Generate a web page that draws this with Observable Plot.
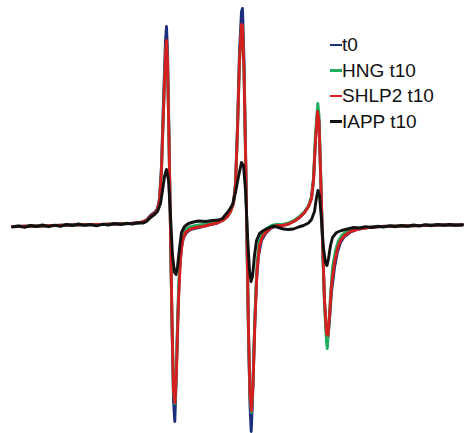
<!DOCTYPE html>
<html>
<head>
<meta charset="utf-8">
<script src="https://cdn.jsdelivr.net/npm/d3@7"></script>
<script src="https://cdn.jsdelivr.net/npm/@observablehq/plot@0.6"></script>
<style>
  html, body { margin: 0; padding: 0; background: #fff; }
  #wrap { position: relative; width: 473px; height: 433px; }
  #legend { position: absolute; left: 330px; top: 32px; font-family: "Liberation Sans", Arial, sans-serif; font-size: 19px; color: #111; }
  .row { height: 25.5px; line-height: 25.5px; white-space: nowrap; display: flex; align-items: center; }
  .dash { display: inline-block; width: 12px; height: 2.5px; margin-right: 0px; }
</style>
</head>
<body>
<div id="wrap"><div id="legend"></div></div>
<script>
// Series names and colours
const seriesNames = ["t0", "HNG t10", "SHLP2 t10", "IAPP t10"];
const seriesColors = ["#1b2f7e", "#1fae62", "#d41f1f", "#111111"];

// Field position (arbitrary units) and signal (arbitrary units)
const t0 = [
  [12,-1],[40,-0.5],[70,0.5],[100,1],[130,2],[140,3],[146,5.5],[150,10],[154,13],[157,17],[159,27],[161,60],[163,125],[165,185],[166,199],[167,175],[168.5,90],[170,-5],[171.5,-100],[173,-175],[174.3,-196],[175.5,-160],[177,-100],[179,-45],[181,-22],[183,-12],[186,-7],[190,-4],[196,-2.5],[202,-1],[210,1],[217,2.5],[223,5.5],[227,9],[230,14],[233,23],[235,42],[237,100],[239,175],[241,214],[242,217],[243.5,165],[245,80],[246.5,-15],[248,-110],[249.5,-180],[250.7,-206],[252,-175],[254,-105],[256,-55],[258,-30],[261,-15],[265,-8],[270,-3],[276,-0.5],[282,0],[288,1.5],[294,4.5],[299,8],[304,13],[308,19],[311,27],[313,45],[315,86],[317,113],[318.5,104],[320,55],[322,-15],[324,-75],[326,-108],[327.5,-111],[329,-95],[331,-66],[334,-42],[337,-26],[340,-17],[344,-11],[350,-6.5],[358,-3.5],[368,-2],[380,-1],[400,-0.5],[420,0],[440,0.5],[462,0.5]
];
const hng = [
  [12,-1],[40,-0.5],[70,0.5],[100,1],[130,2],[140,2.5],[146,4.5],[150,8.5],[154,11.5],[157,15],[159,24],[161,55],[163,115],[165,170],[166,184],[167,163],[168.5,82],[170,-8],[171.5,-98],[173,-166],[174.5,-178],[176,-140],[178,-65],[180,-26],[182,-11],[185,-4],[189,-1.5],[195,0],[202,1],[210,2],[217,3.5],[223,6],[227,9.5],[230,14],[233,22],[235,40],[237,94],[239,163],[241,200],[242,199],[243.5,152],[245,70],[246.5,-20],[248,-108],[249.5,-172],[251,-187],[252.5,-158],[254.5,-88],[256.5,-38],[259,-15],[262,-7],[266,-3],[271,0],[276,1],[282,1],[288,2.5],[294,5.5],[299,9],[304,14],[308,20],[311,29],[313,48],[315,92],[317.3,122],[318.5,110],[320,58],[322,-15],[324,-80],[326,-117],[326.8,-123],[328,-105],[330,-70],[332,-42],[335,-25],[338,-15],[342,-9],[348,-5],[356,-3],[366,-2],[380,-1],[400,-0.5],[420,0],[440,0.5],[462,0.5]
];
const shlp2 = [
  [12,-1],[40,-0.5],[70,0.5],[100,1],[130,2],[140,3],[146,5],[150,9],[154,12],[157,16],[159,25],[161,55],[163,115],[165,170],[166,185],[167,165],[168.5,85],[170,-5],[171.5,-95],[173,-165],[174.5,-177],[176,-145],[178,-75],[180,-33],[182,-15],[185,-7],[189,-4],[195,-2],[202,-1],[210,1],[217,2.5],[223,5.5],[227,9],[230,14],[233,22],[235,40],[237,95],[239,165],[241,201],[242,200],[243.5,155],[245,75],[246.5,-15],[248,-105],[249.5,-170],[251,-185],[252.5,-160],[254.5,-95],[256.5,-45],[259,-20],[262,-11],[266,-6],[271,-2],[276,0],[282,0],[288,1.5],[294,4.5],[299,8],[304,13],[308,19],[311,27],[313,45],[315,85],[317,114],[318.5,105],[320,55],[322,-15],[324,-75],[326,-108],[327.5,-110],[329,-90],[331,-60],[334,-37],[337,-23],[340,-15],[344,-10],[350,-6],[358,-3.5],[368,-2],[380,-1],[400,-0.5],[420,0],[440,0.5],[462,0.5]
];
const iapp = [
  [12,-1.5],[18,-0.5],[24,-1.8],[30,0],[36,-1],[42,0.5],[48,-1.2],[54,0.3],[60,-0.8],[66,1],[72,0],[78,1.5],[84,0.2],[90,1],[96,-0.3],[102,1.2],[108,0.5],[114,2],[120,1],[126,2.2],[132,1.5],[138,2.8],[143,2.5],[146,4],[150,8],[154,11],[157,14],[160,22],[162,35],[164,49],[166,56],[168,45],[170,10],[172,-30],[174,-47],[175.5,-49],[177,-41],[179,-23],[181,-7],[184,-1],[188,2],[193,3.5],[198,4.5],[205,4],[212,5],[218,5.5],[222,7],[226,12],[229,16],[232,21],[235,33],[238,49],[241,63],[243,60],[245,35],[247,-10],[249,-45],[250.5,-56],[252,-51],[254,-30],[256,-15],[259,-8],[263,-5],[268,-2.5],[273,-0.5],[278,-2],[283,-3.5],[288,-4],[293,-3.5],[298,-1.5],[303,0],[308,2.5],[311,6],[314,14],[316,28],[317.5,35],[319,30],[321,5],[323,-23],[325,-37],[326.5,-40],[328,-33],[330,-20],[332,-12],[336,-7],[341,-5],[347,-3.5],[353,-2],[359,-2.5],[365,-1.2],[371,-2],[377,-0.8],[383,-1.5],[389,-0.3],[395,-1.2],[401,0],[407,-0.8],[413,0.5],[419,-0.5],[425,0.8],[431,-0.2],[437,1],[443,0.2],[449,1],[455,0.3],[462,0.8]
];

const allSeries = [t0, hng, shlp2, iapp];
const rows = allSeries.flatMap((s, i) => s.map(([x, v]) => ({series: seriesNames[i], x, v})));

const chart = Plot.plot({
  width: 473,
  height: 433,
  marginTop: 0, marginBottom: 0, marginLeft: 0, marginRight: 0,
  x: {domain: [0, 473], axis: null},
  y: {domain: [-208, 225], axis: null},
  color: {domain: seriesNames, range: seriesColors},
  marks: seriesNames.map(name =>
    Plot.line(rows.filter(d => d.series === name), {
      x: "x", y: "v", stroke: "series", strokeWidth: 2.9, strokeLinejoin: "round", curve: "linear"
    })
  )
});
document.getElementById("wrap").prepend(chart);

const legend = document.getElementById("legend");
seriesNames.forEach((name, i) => {
  const row = document.createElement("div");
  row.className = "row";
  const dash = document.createElement("span");
  dash.className = "dash";
  dash.style.background = seriesColors[i];
  row.appendChild(dash);
  row.appendChild(document.createTextNode(name));
  legend.appendChild(row);
});
</script>
</body>
</html>
